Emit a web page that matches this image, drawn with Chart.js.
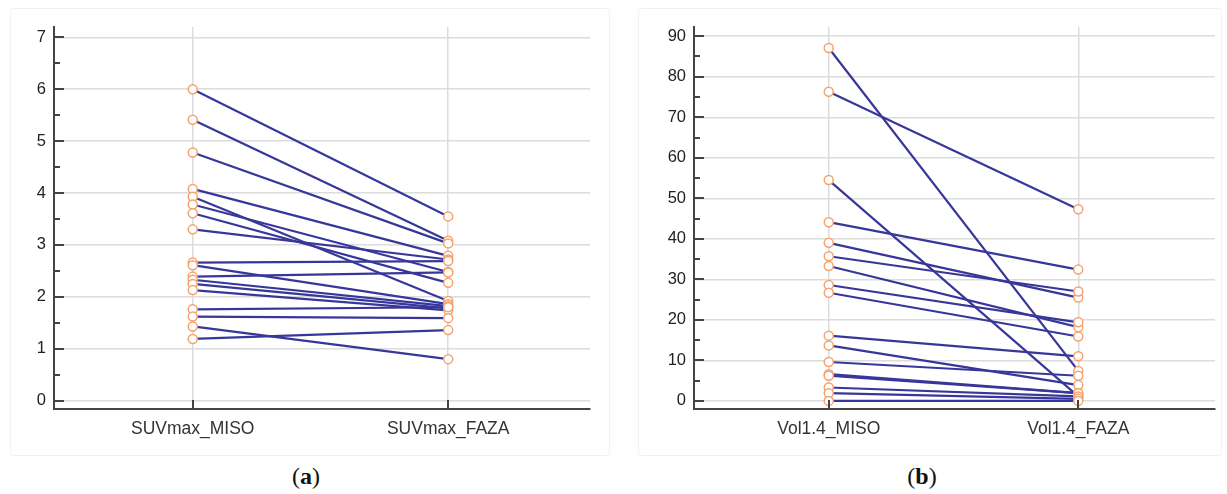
<!DOCTYPE html>
<html>
<head>
<meta charset="utf-8">
<script src="https://cdn.jsdelivr.net/npm/chart.js@4.4.1/dist/chart.umd.min.js"></script>
<style>
  body { margin: 0; background: #fff; width: 1227px; height: 494px; position: relative; overflow: hidden; }
  .panel { position: absolute; top: 8px; height: 448px; border: 1px solid #f1f1f1; border-radius: 3px; box-sizing: border-box; }
  .cap { position: absolute; top: 463px; font-family: "Liberation Serif", serif; font-size: 24px; color: #111; width: 100px; text-align: center; }
</style>
</head>
<body>
<div class="panel" style="left:10px;width:600px"><canvas id="chartA"></canvas></div>
<div class="panel" style="left:638px;width:584px"><canvas id="chartB"></canvas></div>
<div class="cap" style="left:256px">(<b>a</b>)</div>
<div class="cap" style="left:872px">(<b>b</b>)</div>
<script>
// panel (a)
const catsA = ['SUVmax_MISO', 'SUVmax_FAZA'];
const misoA = [6.00, 5.41, 4.78, 4.08, 3.93, 3.78, 3.61, 3.30, 2.66, 2.61, 2.39, 2.33, 2.25, 2.13, 1.76, 1.62, 1.43, 1.19];
const fazaA = [3.55, 3.08, 3.03, 2.79, 1.92, 2.48, 2.27, 2.72, 2.69, 1.86, 2.47, 1.82, 1.78, 1.74, 1.80, 1.59, 0.80, 1.36];
const ticksA = [0, 1, 2, 3, 4, 5, 6, 7];

// panel (b)
const catsB = ['Vol1.4_MISO', 'Vol1.4_FAZA'];
const misoB = [87.1, 76.3, 54.5, 44.1, 39.0, 35.7, 33.3, 28.6, 26.7, 16.1, 13.7, 9.6, 6.6, 6.2, 3.3, 1.9, 0.0];
const fazaB = [7.4, 47.3, 1.1, 32.4, 25.5, 27.0, 18.2, 19.4, 15.9, 11.0, 3.9, 6.2, 1.9, 1.9, 1.1, 0.5, 0.0];
const ticksB = [0, 10, 20, 30, 40, 50, 60, 70, 80, 90];

const axisColor = '#444';
const lineColor = '#37379a';
const pointColor = '#f5a26c';

// ticks in this chart point into the plot, with minor ticks half way
const innerTicks = {
  id: 'innerTicks',
  afterDraw(chart, args, opts) {
    const ctx = chart.ctx;
    const area = chart.chartArea;
    const y = chart.scales.y;
    const x = chart.scales.x;
    ctx.save();
    ctx.strokeStyle = axisColor;
    ctx.lineWidth = 2;
    ctx.beginPath();
    const step = opts.step / 2;
    for (let v = 0; v <= y.max + 1e-9; v += step) {
      const py = Math.round(y.getPixelForValue(v));
      const major = Math.abs(v / opts.step - Math.round(v / opts.step)) < 1e-6;
      ctx.moveTo(area.left, py);
      ctx.lineTo(area.left + (major ? 10 : 6), py);
    }
    [0, 1].forEach(v => {
      const px = Math.round(x.getPixelForValue(v));
      ctx.moveTo(px, area.bottom);
      ctx.lineTo(px, area.bottom - 9);
    });
    ctx.stroke();
    ctx.restore();
  }
};

function MakeChart(id, cats, miso, faza, ticks, yMin, yMax, xMin, xMax, yWidth, padRight) {
  const datasets = miso.map((m, i) => ({
    data: [{ x: 0, y: m }, { x: 1, y: faza[i] }],
    borderColor: lineColor,
    borderWidth: 2.2,
    pointRadius: 0,
    order: 1
  }));
  const pts = [];
  miso.forEach((m, i) => {
    pts.push({ x: 0, y: m });
    pts.push({ x: 1, y: faza[i] });
  });
  datasets.push({
    data: pts,
    showLine: false,
    pointRadius: 4.5,
    pointBorderWidth: 1.5,
    pointBorderColor: pointColor,
    pointBackgroundColor: '#fff',
    order: 0
  });

  new Chart(document.getElementById(id), {
    type: 'line',
    data: { datasets: datasets },
    plugins: [innerTicks],
    options: {
      responsive: true,
      maintainAspectRatio: false,
      animation: false,
      layout: { padding: { top: 15, right: padRight, left: 0, bottom: 0 } },
      plugins: {
        legend: { display: false },
        tooltip: { enabled: false },
        innerTicks: { step: ticks[1] - ticks[0] }
      },
      scales: {
        x: {
          type: 'linear',
          min: xMin,
          max: xMax,
          afterBuildTicks: s => { s.ticks = [{ value: 0 }, { value: 1 }]; },
          afterFit: s => { s.height = 46; },
          grid: { color: '#dcdcdc', lineWidth: 1.5, drawTicks: false },
          border: { color: axisColor, width: 2 },
          ticks: {
            padding: 10,
            color: '#333',
            font: { family: 'Liberation Sans', size: 17.5 },
            callback: v => cats[v]
          }
        },
        y: {
          min: yMin,
          max: yMax,
          afterBuildTicks: s => { s.ticks = ticks.map(v => ({ value: v })); },
          afterFit: s => { s.width = yWidth; },
          grid: { color: '#dcdcdc', lineWidth: 1.5, drawTicks: false },
          border: { color: axisColor, width: 2 },
          ticks: {
            padding: 8,
            color: '#222',
            font: { family: 'Liberation Sans', size: 16.5 },
            callback: v => v
          }
        }
      }
    }
  });
}

MakeChart('chartA', catsA, misoA, fazaA, ticksA, -0.16, 7.2, -0.543, 1.555, 43, 19);
MakeChart('chartB', catsB, misoB, fazaB, ticksB, -2, 92.3, -0.54, 1.548, 55, 6);
</script>
</body>
</html>
